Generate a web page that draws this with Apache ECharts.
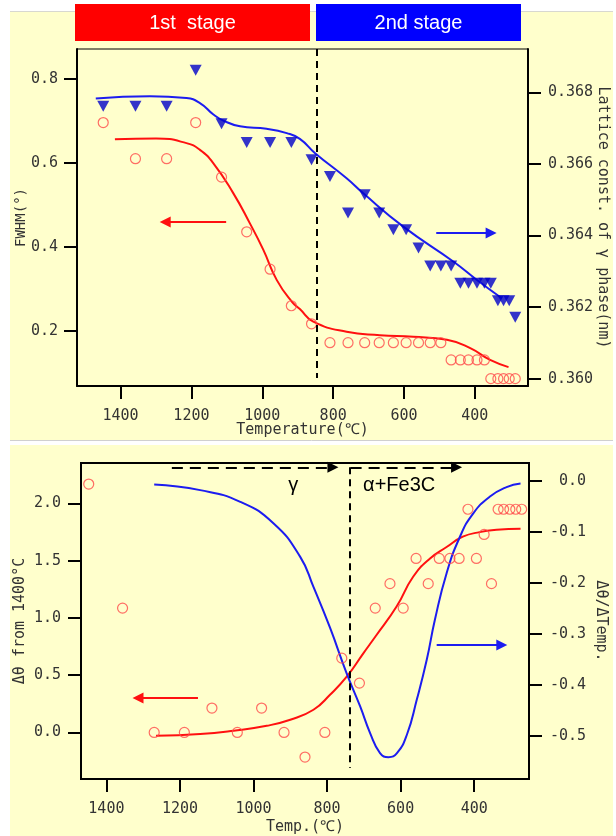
<!DOCTYPE html>
<html>
<head>
<meta charset="utf-8">
<script src="https://cdn.jsdelivr.net/npm/echarts@6/dist/echarts.min.js"></script>
<style>
  html, body { margin: 0; padding: 0; background: #ffffff; }
  #chart { width: 616px; height: 836px; }
</style>
</head>
<body>
<div id="chart"></div>
<script>
// ---- Upper panel: FWHM and lattice constant vs temperature ----
const tempTop = [1449, 1358, 1270, 1188, 1115, 1044, 978, 918, 861, 809, 758, 711, 670, 630,
                 594, 559, 526, 496, 467, 441, 418, 394, 373, 355, 335, 319, 303, 286];
const fwhm = [0.696, 0.610, 0.610, 0.696, 0.566, 0.436, 0.347, 0.260, 0.217, 0.172, 0.172, 0.172,
              0.172, 0.172, 0.172, 0.172, 0.172, 0.172, 0.131, 0.131, 0.131, 0.131, 0.131,
              0.0865, 0.0865, 0.0865, 0.0865, 0.0865];
const lattice = [0.36761, 0.36761, 0.36761, 0.36862, 0.36712, 0.36660, 0.36660, 0.36660, 0.36612,
                 0.36565, 0.36463, 0.36514, 0.36463, 0.36416, 0.36416, 0.36365, 0.36315, 0.36315,
                 0.36315, 0.36267, 0.36267, 0.36267, 0.36267, 0.36267, 0.36218, 0.36218, 0.36218,
                 0.36172];
// fitted curves (temperature, value)
const fwhmFitT = [1416, 1300, 1214, 1176, 1138, 1082, 1035, 997, 959, 915, 894, 856, 762, 668, 574, 479, 413, 357, 305];
const fwhmFitV = [0.656, 0.658, 0.647, 0.631, 0.599, 0.528, 0.456, 0.393, 0.321, 0.268, 0.252, 0.222,
                  0.198, 0.190, 0.186, 0.179, 0.159, 0.131, 0.114];
const latFitT = [1470, 1317, 1214, 1176, 1138, 1110, 1063, 988, 931, 894, 851, 762, 715, 602, 460, 394, 324];
const latFitV = [0.36783, 0.36789, 0.36784, 0.36770, 0.36738, 0.36721, 0.36705, 0.36698, 0.36686,
                 0.36670, 0.36630, 0.36560, 0.36518, 0.36425, 0.36327, 0.36276, 0.36225];

// ---- Lower panel: peak shift and its derivative ----
const tempBot = [1448, 1356, 1270, 1188, 1113, 1044, 978, 917, 860, 806, 760, 712, 669, 629, 593,
                 558, 525, 495, 466, 441, 417, 394, 373, 353, 335, 320, 303, 287, 271];
const dTheta = [2.17, 1.086, 0, 0, 0.213, 0, 0.213, 0, -0.215, 0, 0.649, 0.431, 1.086, 1.30, 1.086,
                1.52, 1.30, 1.52, 1.52, 1.52, 1.95, 1.52, 1.73, 1.30, 1.95, 1.95, 1.95, 1.95, 1.95];
const dThetaFitT = [1265, 1145, 1054, 964, 900, 837, 792, 746, 701, 668, 611, 566, 520, 475, 431, 385, 339, 274];
const dThetaFitV = [-0.029, -0.014, 0.015, 0.058, 0.111, 0.198, 0.329, 0.489, 0.693, 0.84, 1.10,
                    1.36, 1.52, 1.62, 1.71, 1.75, 1.77, 1.78];
const derivT = [1270, 1145, 1036, 946, 873, 837, 792, 747, 710, 683, 656, 633, 610, 583, 556, 529,
                507, 475, 439, 403, 358, 312, 274];
const derivV = [-0.007, -0.018, -0.041, -0.083, -0.149, -0.208, -0.288, -0.377, -0.4425, -0.4946,
                -0.534, -0.542, -0.534, -0.498, -0.429, -0.351, -0.273, -0.181, -0.110, -0.064,
                -0.031, -0.012, -0.005];

// tick positions
const tempTicks = [1400, 1200, 1000, 800, 600, 400];
const fwhmTicks = [0.2, 0.4, 0.6, 0.8];
const latticeTicks = [0.360, 0.362, 0.364, 0.366, 0.368];
const dThetaTicks = [0.0, 0.5, 1.0, 1.5, 2.0];
const derivTicks = [-0.5, -0.4, -0.3, -0.2, -0.1, 0.0];

const zip = (xs, ys) => xs.map((x, i) => [x, ys[i]]);

const MONO = 'DejaVu Sans Mono';
const SANS = 'Liberation Sans';
const TXT = '#333333';
const RED_PT = '#ff4a4a';
const RED_LN = '#ff1010';
const BLUE_PT = '#0000c8';
const BLUE_LN = '#1c1cf0';

function valueAxis(extra) {
  const ticks = extra.ticks;
  return {
    type: 'value',
    min: extra.min, max: extra.max,
    gridIndex: extra.grid,
    position: extra.position,
    inverse: !!extra.inverse,
    name: extra.name,
    nameLocation: 'middle',
    nameGap: extra.nameGap,
    nameRotate: extra.nameRotate,
    nameMoveOverlap: false,
    nameTextStyle: { fontFamily: MONO, fontSize: extra.nameSize || 15, color: TXT },
    axisLine: { show: true, onZero: false, lineStyle: { color: '#000', width: 2 } },
    axisTick: { show: true, inside: false, length: 13, customValues: ticks,
                lineStyle: { color: '#000', width: 2 } },
    axisLabel: { show: true, customValues: ticks, margin: extra.margin,
                 fontFamily: MONO, fontSize: 15, color: TXT, formatter: extra.formatter },
    splitLine: { show: false }
  };
}

const arrowEnd = (coordA, coordB, color, dashed) => [
  { coord: coordA, symbol: 'none',
    lineStyle: { color: color, width: 2, type: dashed ? [11, 7] : 'solid' } },
  { coord: coordB, symbol: 'triangle', symbolSize: 11 }
];
const plainLine = (coordA, coordB, color, dash) => [
  { coord: coordA, symbol: 'none', lineStyle: { color: color, width: 2, type: dash } },
  { coord: coordB, symbol: 'none' }
];

const option = {
  backgroundColor: '#ffffff',
  animation: false,
  graphic: [
    { type: 'rect', z: -20, shape: { x: 10, y: 11, width: 603, height: 429 },
      style: { fill: '#ffffcc' } },
    { type: 'rect', z: -20, shape: { x: 10, y: 445, width: 603, height: 391 },
      style: { fill: '#ffffcc' } },
    { type: 'line', z: -19, shape: { x1: 10, y1: 11.5, x2: 613, y2: 11.5 },
      style: { stroke: '#d8d8d0', lineWidth: 1 } },
    { type: 'line', z: -19, shape: { x1: 10, y1: 440.5, x2: 613, y2: 440.5 },
      style: { stroke: '#d0d0d0', lineWidth: 1 } },
    { type: 'rect', z: 50, shape: { x: 75, y: 4, width: 235, height: 37 },
      style: { fill: '#ff0000' } },
    { type: 'rect', z: 50, shape: { x: 316, y: 4, width: 205, height: 37 },
      style: { fill: '#0000ff' } },
    { type: 'text', z: 51, x: 192.5, y: 23,
      style: { text: '1st  stage', fill: '#ffffff', font: '20px "Liberation Sans"',
               align: 'center', verticalAlign: 'middle' } },
    { type: 'text', z: 51, x: 418.5, y: 23,
      style: { text: '2nd stage', fill: '#ffffff', font: '20px "Liberation Sans"',
               align: 'center', verticalAlign: 'middle' } }
  ],
  grid: [
    { left: 77, top: 49, width: 451, height: 337, show: true, outerBoundsMode: 'none',
      containLabel: false,
      backgroundColor: 'transparent', borderColor: '#000', borderWidth: 1 },
    { left: 81, top: 463, width: 448, height: 316, show: true, outerBoundsMode: 'none',
      containLabel: false,
      backgroundColor: 'transparent', borderColor: '#000', borderWidth: 2 }
  ],
  xAxis: [
    valueAxis({ grid: 0, min: 250, max: 1523, inverse: true, position: 'bottom', ticks: tempTicks,
                name: 'Temperature(℃)', nameGap: 37, margin: 23, formatter: v => String(v) }),
    valueAxis({ grid: 1, min: 251, max: 1469, inverse: true, position: 'bottom', ticks: tempTicks,
                name: 'Temp.(℃)', nameGap: 41, margin: 23, formatter: v => String(v) })
  ],
  yAxis: [
    valueAxis({ grid: 0, min: 0.069, max: 0.871, position: 'left', ticks: fwhmTicks,
                name: 'FWHM(°)', nameGap: 49, nameSize: 14, margin: 19,
                formatter: v => v.toFixed(1) }),
    valueAxis({ grid: 0, min: 0.35980, max: 0.36921, position: 'right', ticks: latticeTicks,
                name: 'Lattice const. of γ phase(nm)', nameGap: 67, nameRotate: -90, margin: 20,
                formatter: v => v.toFixed(3) }),
    valueAxis({ grid: 1, min: -0.407, max: 2.354, position: 'left', ticks: dThetaTicks,
                name: 'Δθ from 1400°C', nameGap: 53, margin: 20,
                formatter: v => v.toFixed(1) }),
    valueAxis({ grid: 1, min: -0.5848, max: 0.0352, position: 'right', ticks: derivTicks,
                name: 'Δθ/ΔTemp.', nameGap: 64, nameRotate: -90, margin: 21,
                formatter: v => (v < -1e-9 ? '-' : ' ') + Math.abs(v).toFixed(1) })
  ],
  series: [
    {
      name: 'FWHM fit', type: 'line', xAxisIndex: 0, yAxisIndex: 0, smooth: 0.5,
      showSymbol: false, silent: true, z: 3,
      lineStyle: { color: RED_LN, width: 2 },
      data: zip(fwhmFitT, fwhmFitV),
      markLine: {
        silent: true, label: { show: false }, emphasis: { disabled: true },
        data: [
          plainLine([846, 0.871], [846, 0.088], '#000', [7, 5]),
          arrowEnd([1102, 0.459], [1274, 0.459], RED_LN, false)
        ]
      }
    },
    {
      name: 'Lattice fit', type: 'line', xAxisIndex: 0, yAxisIndex: 1, smooth: 0.5,
      showSymbol: false, silent: true, z: 3,
      lineStyle: { color: BLUE_LN, width: 2 },
      data: zip(latFitT, latFitV),
      markLine: {
        silent: true, label: { show: false }, emphasis: { disabled: true },
        data: [ arrowEnd([509, 0.36407], [354, 0.36407], BLUE_LN, false) ]
      }
    },
    {
      name: 'FWHM', type: 'scatter', xAxisIndex: 0, yAxisIndex: 0, z: 4,
      symbol: 'circle', symbolSize: 10,
      itemStyle: { color: 'rgba(0,0,0,0)', borderColor: RED_PT, borderWidth: 1.2 },
      data: zip(tempTop, fwhm)
    },
    {
      name: 'Lattice const.', type: 'scatter', xAxisIndex: 0, yAxisIndex: 1, z: 4,
      symbol: 'triangle', symbolRotate: 180, symbolSize: [12, 11],
      itemStyle: { color: BLUE_PT },
      data: zip(tempTop, lattice)
    },
    {
      name: 'Δθ fit', type: 'line', xAxisIndex: 1, yAxisIndex: 2, smooth: 0.5,
      showSymbol: false, silent: true, z: 3,
      lineStyle: { color: RED_LN, width: 2 },
      data: zip(dThetaFitT, dThetaFitV),
      markLine: {
        silent: true, label: { show: false }, emphasis: { disabled: true },
        data: [
          plainLine([737.5, 2.316], [737.5, -0.311], '#000', [7, 5]),
          arrowEnd([1222, 2.316], [784, 2.316], '#000', true),
          arrowEnd([736, 2.316], [448, 2.316], '#000', true),
          arrowEnd([1151, 0.300], [1314, 0.300], RED_LN, false)
        ]
      },
      markPoint: {
        silent: true, symbol: 'circle', symbolSize: 0,
        label: { show: true, position: 'inside', color: '#000', fontFamily: SANS, fontSize: 20 },
        data: [
          { coord: [892, 2.161], label: { formatter: 'γ' } },
          { coord: [604, 2.161], label: { formatter: 'α+Fe3C' } }
        ]
      }
    },
    {
      name: 'Δθ/ΔTemp.', type: 'line', xAxisIndex: 1, yAxisIndex: 3, smooth: 0.5,
      showSymbol: false, silent: true, z: 3,
      lineStyle: { color: BLUE_LN, width: 2 },
      data: zip(derivT, derivV),
      markLine: {
        silent: true, label: { show: false }, emphasis: { disabled: true },
        data: [ arrowEnd([502, -0.3217], [325, -0.3217], BLUE_LN, false) ]
      }
    },
    {
      name: 'Δθ', type: 'scatter', xAxisIndex: 1, yAxisIndex: 2, z: 4,
      symbol: 'circle', symbolSize: 10,
      itemStyle: { color: 'rgba(0,0,0,0)', borderColor: RED_PT, borderWidth: 1.2 },
      data: zip(tempBot, dTheta)
    }
  ]
};

const chart = echarts.init(document.getElementById('chart'), null, { renderer: 'canvas' });
chart.setOption(option);
</script>
</body>
</html>
